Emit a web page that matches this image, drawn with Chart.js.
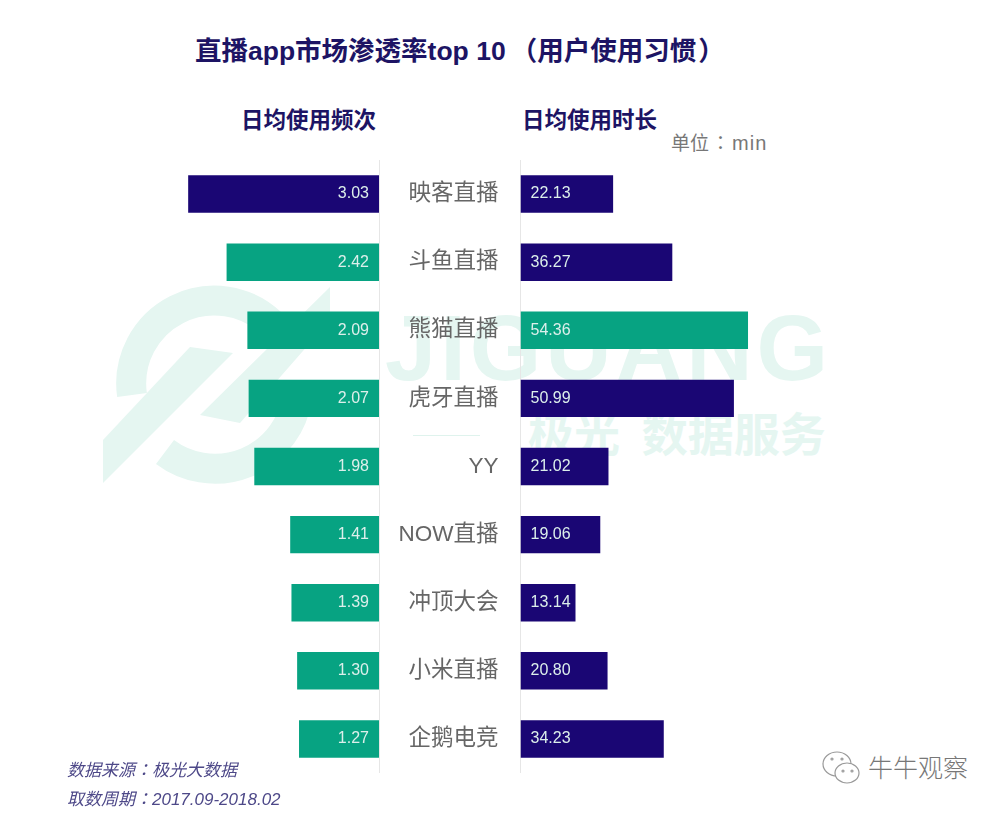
<!DOCTYPE html>
<html>
<head>
<meta charset="utf-8">
<script src="https://cdn.jsdelivr.net/npm/chart.js@4"></script>
<style>
  body { margin: 0; background: #fff; }
  #page { position: relative; width: 1000px; height: 814px; overflow: hidden; font-family: "Liberation Sans", "Noto Sans CJK SC", sans-serif; }
  #page div { position: absolute; white-space: nowrap; line-height: 1; }
  canvas, svg { position: absolute; }
  .head { color: #1d1464; font-weight: 700; font-size: 22.5px; top: 110px; }
  .foot { color: #4d4888; font-style: italic; font-size: 17px; left: 67px; }
  .mark { color: #e5f6f1; font-weight: 700; }
  .tc { font-family: "Noto Sans CJK TC"; }
</style>
</head>
<body>
<div id="page">
  <!-- watermark -->
  <svg width="1000" height="814" style="left:0;top:0">
    <g fill="none" stroke="#e5f6f1" stroke-width="30">
      <path d="M132 395 A83 83 0 0 1 272 324"/>
      <path d="M165 452 A83 83 0 0 0 297 398"/>
    </g>
    <polygon points="103,440 190,347 233,353 103,483" fill="#e5f6f1"/>
    <polygon points="200,415 330,287 330,320 240,423" fill="#e5f6f1"/>
  </svg>
  <div class="mark" style="left:385px;top:302px;font-size:92px;letter-spacing:4px">JIGUANG</div>
  <div class="mark" style="left:528px;top:412px;font-size:46px;word-spacing:9px">极光 数据服务</div>
  <div style="left:413px;top:435px;width:67px;height:1px;background:#dff3ed"></div>

  <div style="left:195px;top:38px;font-size:26.5px;font-weight:700;color:#1d1464">直播app市场渗透率top 10<span style="margin-left:5px">（</span>用户使用习惯<span style="margin-left:2px">）</span></div>
  <div class="head" style="left:241px">日均使用频次</div>
  <div class="head" style="left:522px">日均使用时长</div>
  <div style="left:671px;top:132px;font-size:19px;color:#777">单位<span class="tc" style="margin:0 2px">：</span><span style="font-size:20px;letter-spacing:1px">min</span></div>

  <canvas id="freqChart" width="280" height="613" style="left:100px;top:160px"></canvas>
  <canvas id="timeChart" width="400" height="613" style="left:380px;top:160px"></canvas>

  <div class="foot" style="top:760px">数据来源<span class="tc">：</span>极光大数据</div>
  <div class="foot" style="top:789px">取数周期<span class="tc">：</span>2017.09-2018.02</div>

  <svg width="42" height="38" style="left:821px;top:750px" fill="#fff" stroke="#999" stroke-width="1.2">
    <ellipse cx="16" cy="14" rx="14" ry="12"/>
    <ellipse cx="26" cy="23" rx="12" ry="10"/>
    <circle cx="11" cy="9" r="1"/><circle cx="21" cy="9" r="1"/>
    <circle cx="22" cy="21" r="1"/><circle cx="31" cy="21" r="1"/>
  </svg>
  <div style="left:868px;top:756px;font-size:25px;color:#777;font-weight:300">牛牛观察</div>
</div>

<script>
const NAVY = "#1a0674";
const GREEN = "#07a382";

const apps = ["映客直播", "斗鱼直播", "熊猫直播", "虎牙直播", "YY", "NOW直播", "冲顶大会", "小米直播", "企鹅电竞"];
const freq = [3.03, 2.42, 2.09, 2.07, 1.98, 1.41, 1.39, 1.30, 1.27];
const mins = [22.13, 36.27, 54.36, 50.99, 21.02, 19.06, 13.14, 20.80, 34.23];

// value text inside each bar, next to the base
const valueLabels = {
  id: "valueLabels",
  afterDatasetsDraw(chart) {
    const c = chart.ctx;
    const left = chart.canvas.id === "freqChart";
    c.save();
    c.font = "16px 'Liberation Sans'";
    c.fillStyle = "#dcefeb";
    c.textBaseline = "middle";
    c.textAlign = left ? "right" : "left";
    chart.getDatasetMeta(0).data.forEach((bar, i) => {
      const val = chart.data.datasets[0].data[i].toFixed(2);
      c.fillText(val, bar.base + (left ? -10 : 10), bar.y);
    });
    c.restore();
  },
};

const freqChart = new Chart(document.getElementById("freqChart").getContext("2d"), {
  type: "bar",
  plugins: [valueLabels],
  data: {
    labels: apps,
    datasets: [
      {
        data: freq,
        backgroundColor: [NAVY, GREEN, GREEN, GREEN, GREEN, GREEN, GREEN, GREEN, GREEN],
        barPercentage: 0.55,
        categoryPercentage: 1,
      },
    ],
  },
  options: {
    indexAxis: "y",
    responsive: false,
    animation: false,
    plugins: { legend: { display: false }, tooltip: { enabled: false } },
    scales: {
      x: { display: false, reverse: true, min: 0, max: 4.43 },
      y: {
        position: "right",
        grid: { display: false },
        border: { color: "#e6e6e6" },
        ticks: { display: false },
        afterFit(axis) { axis.width = 1; },
      },
    },
  },
});

const timeChart = new Chart(document.getElementById("timeChart").getContext("2d"), {
  type: "bar",
  plugins: [valueLabels],
  data: {
    labels: apps,
    datasets: [
      {
        data: mins,
        backgroundColor: [NAVY, NAVY, GREEN, NAVY, NAVY, NAVY, NAVY, NAVY, NAVY],
        barPercentage: 0.55,
        categoryPercentage: 1,
      },
    ],
  },
  options: {
    indexAxis: "y",
    responsive: false,
    animation: false,
    plugins: { legend: { display: false }, tooltip: { enabled: false } },
    scales: {
      x: { display: false, min: 0, max: 62 },
      y: {
        grid: { display: false },
        border: { color: "#e6e6e6" },
        ticks: {
          color: "#666",
          padding: 14,
          font: { size: 22.5, family: "'Liberation Sans', 'Noto Sans CJK SC'" },
        },
        afterFit(axis) {
          axis.width = 140.5;
          axis.paddingTop = 0;
          axis.paddingBottom = 0;
        },
      },
    },
  },
});
</script>
</body>
</html>
